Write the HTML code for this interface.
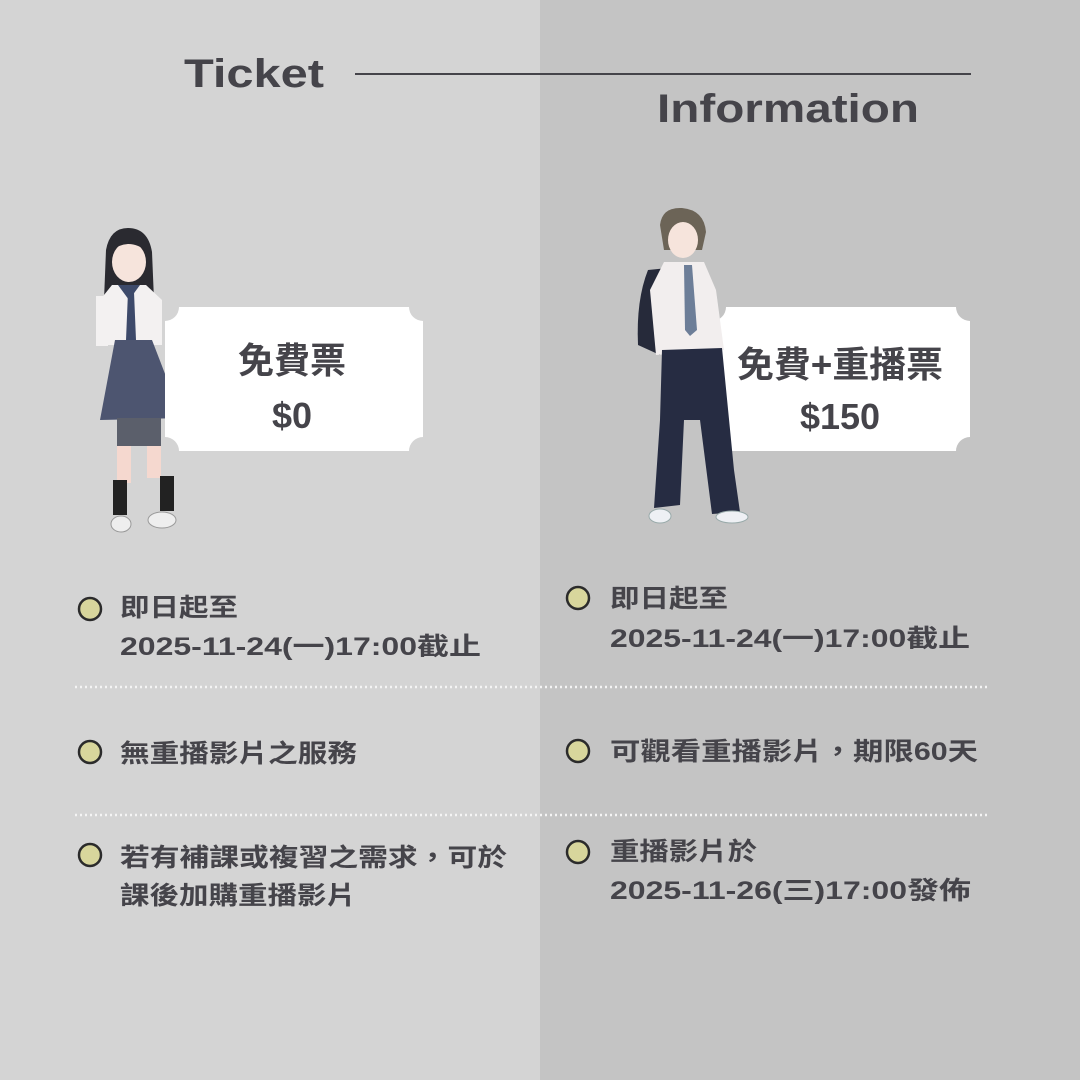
<!DOCTYPE html>
<html><head><meta charset="utf-8"><style>
html,body{margin:0;padding:0;width:1080px;height:1080px;overflow:hidden}
svg{display:block}
text{font-family:"Liberation Sans","Noto Sans CJK TC",sans-serif;font-weight:bold;fill:#45444a}
</style></head><body>
<svg width="1080" height="1080" viewBox="0 0 1080 1080" xmlns="http://www.w3.org/2000/svg">
<rect x="0" y="0" width="540" height="1080" fill="#d4d4d4"/>
<rect x="540" y="0" width="540" height="1080" fill="#c4c4c4"/>

<text x="184" y="87" font-size="40" textLength="140" lengthAdjust="spacingAndGlyphs">Ticket</text>
<line x1="355" y1="74" x2="971" y2="74" stroke="#45444a" stroke-width="2"/>
<text x="657" y="122" font-size="40" textLength="262" lengthAdjust="spacingAndGlyphs">Information</text>

<!-- girl -->
<g>
<path d="M106 250 Q110 228 128 228 Q148 228 152 252 L154 300 L104 300 Z" fill="#2a2a30"/>
<ellipse cx="129" cy="262" rx="17" ry="20" fill="#f6e4dc"/>
<path d="M110 252 Q128 236 148 252 L148 242 Q128 228 110 242 Z" fill="#2a2a30"/>
<path d="M112 285 L146 285 L162 300 L162 345 L100 345 L100 300 Z" fill="#f3f1f1"/>
<path d="M118 285 L140 285 L129 300 Z" fill="#3d4a6a"/>
<path d="M128 292 L134 292 L136 340 L131 346 L126 340 Z" fill="#3d4a6a"/>
<path d="M115 340 L152 340 L182 418 L100 420 Z" fill="#4d5570"/>
<rect x="96" y="296" width="12" height="50" fill="#f3f1f1"/>
<rect x="117" y="418" width="14" height="65" fill="#f5d8cf"/>
<rect x="147" y="418" width="14" height="60" fill="#f5d8cf"/>
<rect x="117" y="418" width="44" height="28" fill="#5b5f6b"/>
<rect x="113" y="480" width="14" height="35" fill="#222"/>
<rect x="160" y="476" width="14" height="35" fill="#222"/>
<ellipse cx="121" cy="524" rx="10" ry="8" fill="#eee" stroke="#999"/>
<ellipse cx="162" cy="520" rx="14" ry="8" fill="#eee" stroke="#999"/>
</g>

<!-- tickets -->
<path d="M179 307 H409 A14 14 0 0 0 423 321 V437 A14 14 0 0 0 409 451 H179 A14 14 0 0 0 165 437 V321 A14 14 0 0 0 179 307 Z" fill="#ffffff"/>
<text x="292" y="373" font-size="36" text-anchor="middle">免費票</text>
<text x="292" y="428" font-size="36" text-anchor="middle">$0</text>

<path d="M726 307 H956 A14 14 0 0 0 970 321 V437 A14 14 0 0 0 956 451 H726 A14 14 0 0 0 712 437 V321 A14 14 0 0 0 726 307 Z" fill="#ffffff"/>

<!-- boy -->
<g>
<path d="M648 270 Q636 300 638 345 L660 355 L668 268 Z" fill="#262a3a"/>
<path d="M660 225 Q662 207 682 208 Q704 210 706 232 L702 250 L664 250 Z" fill="#6c6457"/>
<ellipse cx="683" cy="240" rx="15" ry="18" fill="#f6e4dc"/>
<path d="M664 235 Q670 215 684 217 Q700 218 704 235 L704 225 Q696 208 680 210 Q664 214 662 232 Z" fill="#6c6457"/>
<path d="M664 262 L704 262 L716 290 L724 350 L656 355 L650 290 Z" fill="#f2eeee"/>
<path d="M684 265 L692 265 L697 330 L690 336 L685 330 Z" fill="#6d7e98"/>
<path d="M662 350 L722 348 L734 470 L740 512 L712 514 L700 420 L684 420 L680 505 L654 508 L660 420 Z" fill="#262c42"/>
<ellipse cx="660" cy="516" rx="11" ry="7" fill="#eef0f4" stroke="#9aa"/>
<ellipse cx="732" cy="517" rx="16" ry="6" fill="#eef0f4" stroke="#9aa"/>
</g>
<text x="840" y="377" font-size="36" text-anchor="middle" textLength="206" lengthAdjust="spacingAndGlyphs">免費+重播票</text>
<text x="840" y="429" font-size="36" text-anchor="middle">$150</text>

<!-- dotted lines -->
<line x1="75" y1="687" x2="990" y2="687" stroke="#f4f4f4" stroke-width="2.5" stroke-dasharray="2 3"/>
<line x1="75" y1="815" x2="990" y2="815" stroke="#f4f4f4" stroke-width="2.5" stroke-dasharray="2 3"/>

<g fill="#d8d69c" stroke="#2b2b2b" stroke-width="2.5">
<circle cx="90" cy="609" r="11"/><circle cx="90" cy="752" r="11"/><circle cx="90" cy="855" r="11"/>
<circle cx="578" cy="598" r="11"/><circle cx="578" cy="751" r="11"/><circle cx="578" cy="852" r="11"/>
</g>

<g font-size="25">
<text x="120" y="616" textLength="118" lengthAdjust="spacingAndGlyphs">即日起至</text>
<text x="120" y="655" textLength="361" lengthAdjust="spacingAndGlyphs">2025-11-24(一)17:00截止</text>
<text x="120" y="762" textLength="237" lengthAdjust="spacingAndGlyphs">無重播影片之服務</text>
<text x="120" y="866" textLength="387" lengthAdjust="spacingAndGlyphs">若有補課或複習之需求，可於</text>
<text x="120" y="904" textLength="236" lengthAdjust="spacingAndGlyphs">課後加購重播影片</text>

<text x="610" y="607" textLength="118" lengthAdjust="spacingAndGlyphs">即日起至</text>
<text x="610" y="647" textLength="360" lengthAdjust="spacingAndGlyphs">2025-11-24(一)17:00截止</text>
<text x="610" y="760" textLength="368" lengthAdjust="spacingAndGlyphs">可觀看重播影片，期限60天</text>
<text x="610" y="860" textLength="147" lengthAdjust="spacingAndGlyphs">重播影片於</text>
<text x="610" y="899" textLength="361" lengthAdjust="spacingAndGlyphs">2025-11-26(三)17:00發佈</text>
</g>
</svg>
</body></html>
